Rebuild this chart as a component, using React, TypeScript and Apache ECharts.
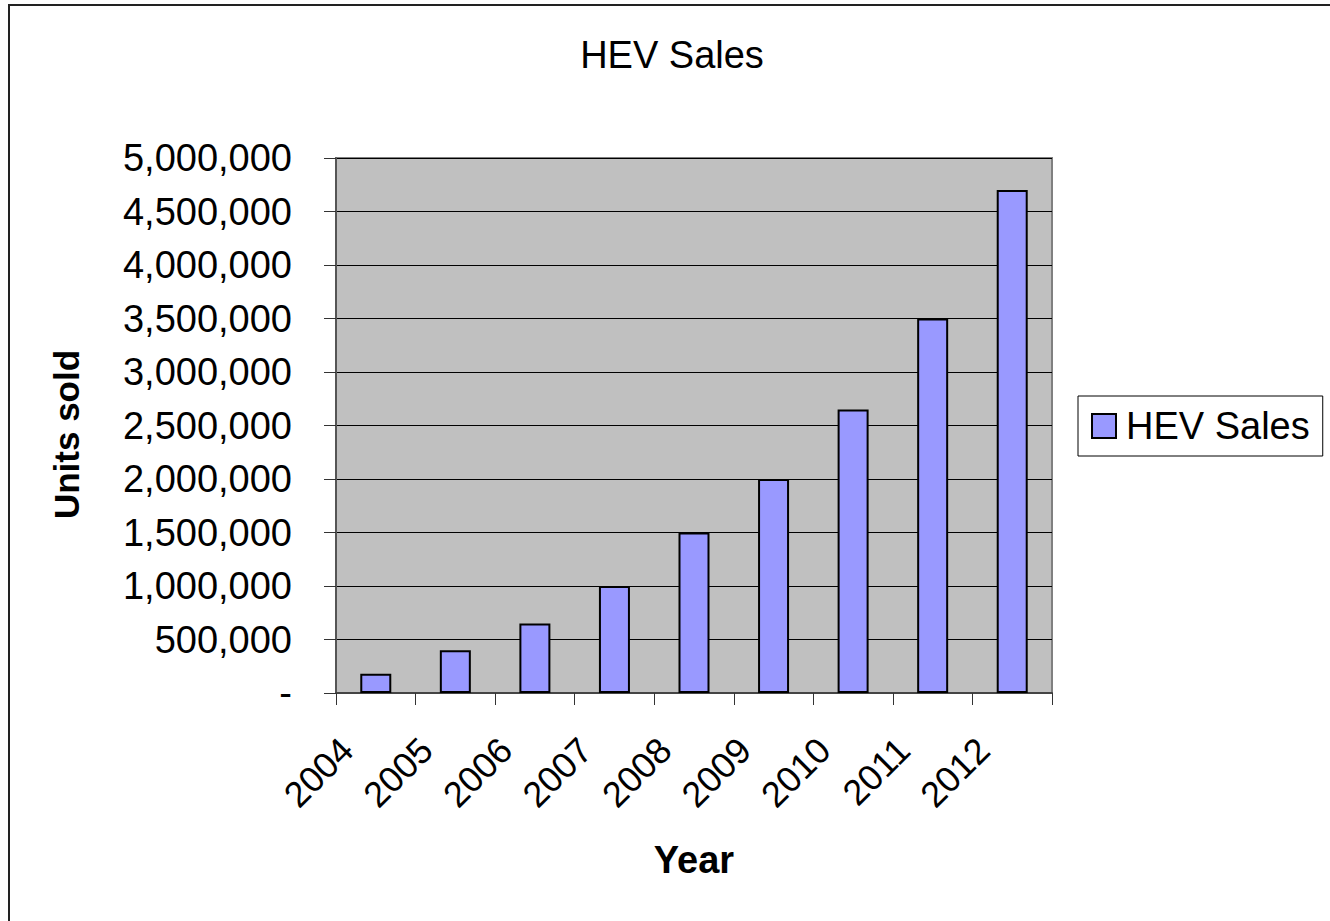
import React, { useEffect, useRef } from "react";
import * as echarts from "echarts";

const years = ["2004", "2005", "2006", "2007", "2008", "2009", "2010", "2011", "2012"];
const sales = [180000, 400000, 650000, 1000000, 1500000, 2000000, 2650000, 3500000, 4700000];
const seriesName = "HEV Sales";
const chartTitle = "HEV Sales";
const xName = "Year";
const yName = "Units sold";

const FONT = "'Liberation Sans', Arial, sans-serif";

export default function App() {
  const ref = useRef<HTMLDivElement>(null);
  useEffect(() => {
    if (!ref.current) return;
    const chart = echarts.init(ref.current, undefined, { renderer: "svg" });
    chart.setOption({
      animation: false,
      backgroundColor: "#ffffff",
      textStyle: { fontFamily: FONT, color: "#000" },
      title: {
        text: chartTitle,
        left: 667,
        top: 31,
        textAlign: "center",
        textStyle: { fontFamily: FONT, fontSize: 38, fontWeight: "normal", color: "#000" },
      },
      legend: {
        show: true,
        left: 1078,
        top: 396,
        orient: "vertical",
        padding: [11, 13, 11, 13],
        borderColor: "#000",
        borderWidth: 1,
        itemWidth: 24,
        itemHeight: 24,
        icon: "rect",
        textStyle: { fontFamily: FONT, fontSize: 38, color: "#000", padding: [0, 0, 0, 5] },
        data: [seriesName],
      },
      graphic: [
        {
          type: "rect",
          silent: true,
          shape: { x: 9, y: 5, width: 1400, height: 1000 },
          style: { fill: "none", stroke: "#222", lineWidth: 2 },
        },
      ],
      grid: {
        left: 336,
        top: 158,
        right: 278,
        bottom: 228,
        show: true,
        backgroundColor: "#C0C0C0",
        borderColor: "#808080",
        borderWidth: 2,
        containLabel: false,
      },
      xAxis: {
        type: "category",
        data: years,
        boundaryGap: true,
        name: xName,
        nameLocation: "middle",
        nameGap: 148,
        nameTextStyle: { fontFamily: FONT, fontSize: 38, fontWeight: "bold", color: "#000" },
        axisLine: { show: true, lineStyle: { color: "#444", width: 2 } },
        axisTick: { show: true, length: 12, alignWithLabel: false, interval: 0, lineStyle: { color: "#333", width: 1 } },
        axisLabel: {
          interval: 0,
          rotate: 45,
          margin: 22,
          padding: [0, 41, 0, 0],
          fontFamily: FONT,
          fontSize: 36,
          color: "#000",
        },
        splitLine: { show: false },
      },
      yAxis: {
        type: "value",
        min: 0,
        max: 5000000,
        interval: 500000,
        name: yName,
        nameLocation: "middle",
        nameRotate: 90,
        nameGap: 252,
        nameTextStyle: {
          fontFamily: FONT,
          fontSize: 35,
          fontWeight: "bold",
          color: "#000",
          padding: [0, 18, 0, 0],
        },
        axisLine: { show: true, lineStyle: { color: "#555", width: 2 } },
        axisTick: { show: true, length: 12, lineStyle: { color: "#333", width: 1 } },
        axisLabel: {
          margin: 44,
          fontFamily: FONT,
          fontSize: 38,
          color: "#000",
          formatter: (v: number) => (v === 0 ? "-" : v.toLocaleString("en-US")),
        },
        splitLine: { show: true, lineStyle: { color: "#000", width: 1 } },
      },
      series: [
        {
          name: seriesName,
          type: "bar",
          data: sales,
          barWidth: 31,
          itemStyle: { color: "#9999FF", borderColor: "#000", borderWidth: 2 },
        },
      ],
    });
    return () => chart.dispose();
  }, []);
  return (
    <div
      ref={ref}
      style={{ position: "fixed", left: 0, top: 0, width: 1330, height: 921, background: "#fff" }}
    />
  );
}
